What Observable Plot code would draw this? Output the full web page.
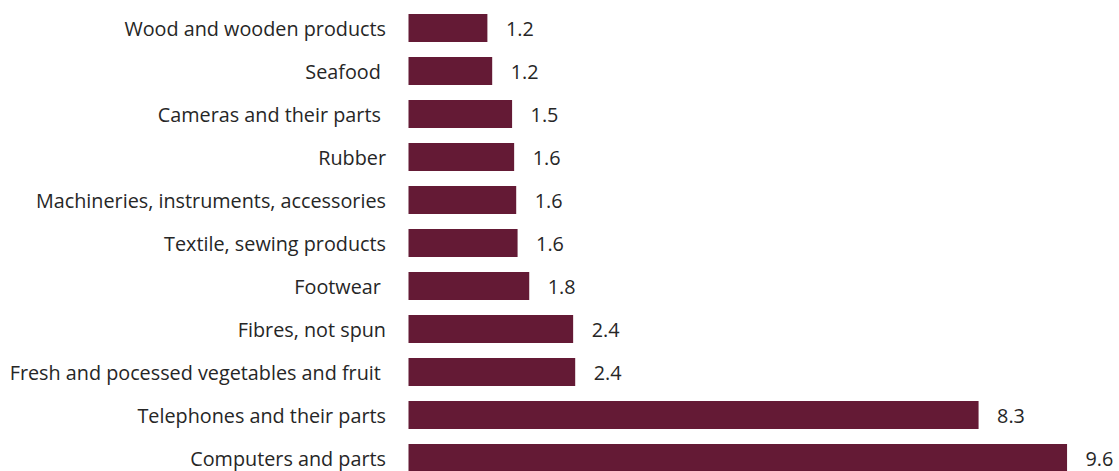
<!DOCTYPE html>
<html>
<head>
<meta charset="utf-8">
<script src="https://cdn.jsdelivr.net/npm/d3@7"></script>
<script src="https://cdn.jsdelivr.net/npm/@observablehq/plot@0.6"></script>
<style>
  html, body { margin: 0; padding: 0; background: #fff; overflow: hidden; }
</style>
</head>
<body>
<div id="chart"></div>
<script>
const categories = [
  "Wood and wooden products",
  "Seafood ",
  "Cameras and their parts ",
  "Rubber",
  "Machineries, instruments, accessories",
  "Textile, sewing products",
  "Footwear ",
  "Fibres, not spun",
  "Fresh and pocessed vegetables and fruit ",
  "Telephones and their parts",
  "Computers and parts"
];
const values = [1.15, 1.22, 1.51, 1.54, 1.57, 1.59, 1.76, 2.40, 2.43, 8.31, 9.60];
const valueLabels = ["1.2", "1.2", "1.5", "1.6", "1.6", "1.6", "1.8", "2.4", "2.4", "8.3", "9.6"];

const data = categories.map((c, i) => ({category: c, value: values[i], label: valueLabels[i]}));

const font = "'Open Sans', 'Noto Sans', sans-serif";
const fs = 19.8;
const chart = Plot.plot({
  width: 1119,
  height: 471,
  marginLeft: 408.5,
  marginRight: 24.5,
  marginTop: 0,
  marginBottom: 0,
  style: {fontFamily: font, fontSize: fs + "px", color: "#262626", background: "#fff"},
  x: {domain: [0, 10], axis: null},
  y: {domain: categories, range: [4, 481], paddingInner: 0.35, paddingOuter: 0.175, label: null},
  marks: [
    Plot.ruleX([0], {stroke: "#d0d0d0", strokeWidth: 1.5, dx: -1.5, y1: 5, y2: 471}),
    Plot.barX(data, {x: "value", y: "category", fill: "#641A35"}),
    Plot.text(data, {x: "value", y: "category", text: "label", textAnchor: "start", dx: 18, dy: 1.5, fill: "#262626", fontSize: fs}),
    Plot.axisY({tickSize: 0, tickPadding: 23, dy: 1.5, fontSize: fs, fill: "#262626", label: null, tickFormat: d => d})
  ]
});
document.getElementById("chart").appendChild(chart);
</script>
</body>
</html>
